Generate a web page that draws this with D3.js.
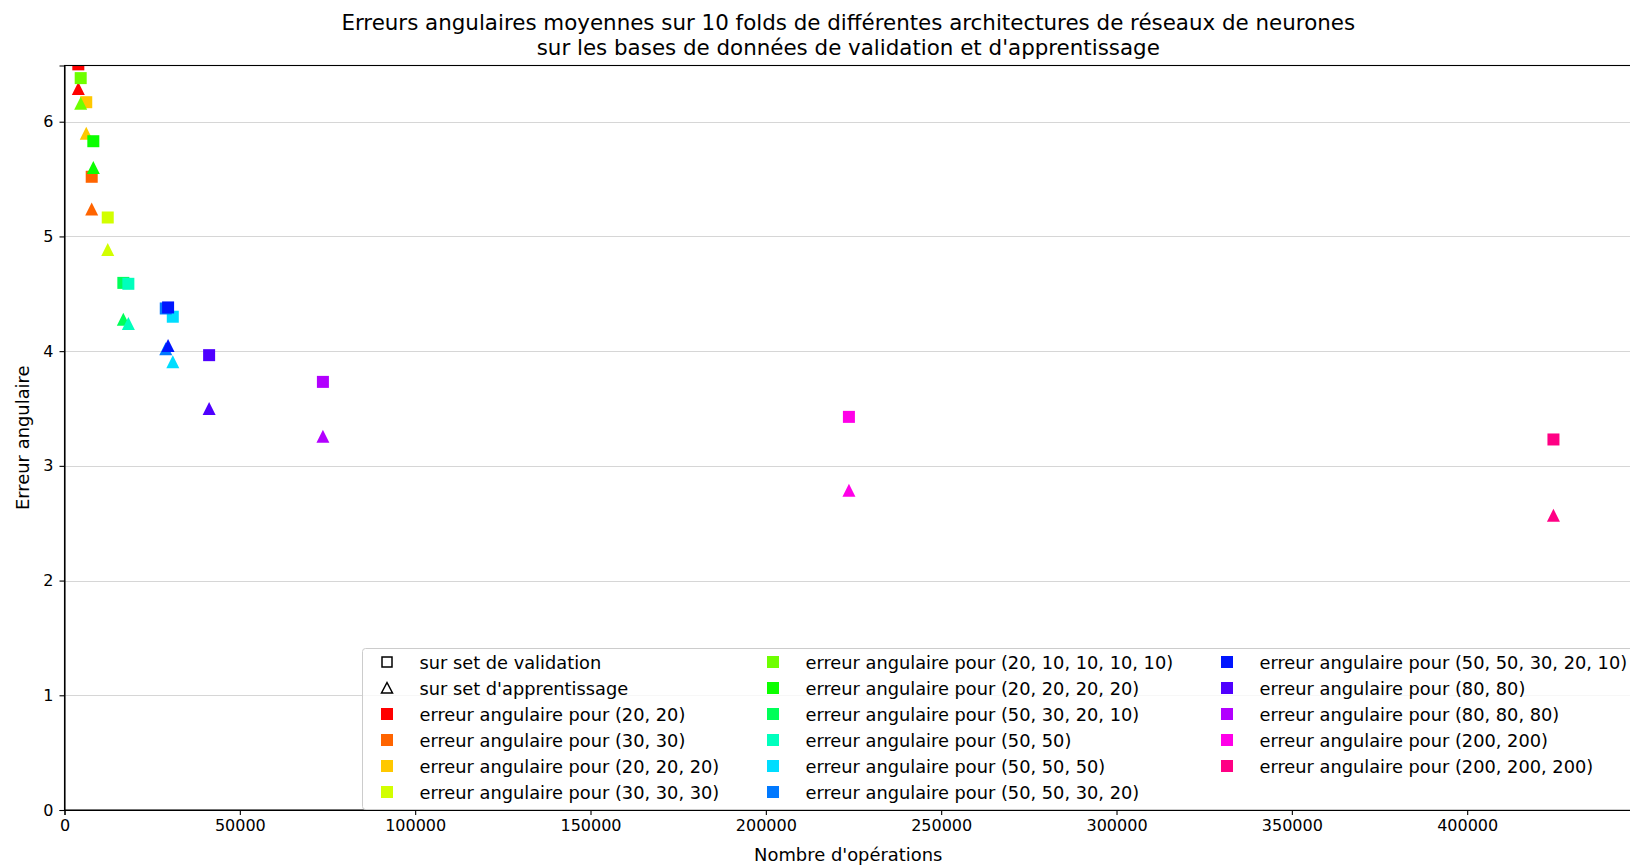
<!DOCTYPE html>
<html lang="fr">
<head>
<meta charset="utf-8">
<title>Erreurs angulaires</title>
<style>
body {
    margin: 0;
    background: #fff;
    font-family: "DejaVu Sans", sans-serif;
}
.grid line {
    stroke: #d6d6d6;
    stroke-width: 1;
}
.axis text {
    font-size: 16px;
    font-family: "DejaVu Sans", sans-serif;
    fill: #000;
}
.axis path, .axis line {
    stroke: #000;
    stroke-width: 1.1;
}
.legend text {
    font-size: 17.8px;
}
</style>
<script src="https://d3js.org/d3.v7.min.js"></script>
</head>
<body>
<div id="chart"></div>
<script>
// architectures testées (une couleur par architecture)
const architectures = ["(20, 20)", "(30, 30)", "(20, 20, 20)", "(30, 30, 30)", "(20, 10, 10, 10, 10)",
    "(20, 20, 20, 20)", "(50, 30, 20, 10)", "(50, 50)", "(50, 50, 50)", "(50, 50, 30, 20)",
    "(50, 50, 30, 20, 10)", "(80, 80)", "(80, 80, 80)", "(200, 200)", "(200, 200, 200)"];
const operations = [3940, 7760, 6200, 12330, 4620, 8220, 16780, 18210, 30880, 28880,
    29540, 41240, 73690, 223690, 424600];
const erreurValidation = [6.50, 5.52, 6.17, 5.165, 6.38, 5.83, 4.595, 4.587, 4.30, 4.372,
    4.381, 3.965, 3.732, 3.427, 3.230];
const erreurApprentissage = [6.29, 5.24, 5.90, 4.887, 6.16, 5.60, 4.279, 4.24, 3.907, 4.02,
    4.05, 3.50, 3.259, 2.788, 2.570];
const couleurs = ["#ff0000", "#ff6400", "#ffc800", "#d2ff00", "#6eff00", "#0bff00", "#00ff59",
    "#00ffbd", "#00ddff", "#0079ff", "#0015ff", "#4f00ff", "#b200ff", "#ff00e8", "#ff0084"];
const xTicks = [0, 50000, 100000, 150000, 200000, 250000, 300000, 350000, 400000];
const yTicks = [0, 1, 2, 3, 4, 5, 6];

const width = 1630;
const height = 867;
const margin = {top: 65.5, right: -2, bottom: 57, left: 64.5};

const svg = d3.select("#chart").append("svg")
    .attr("width", width)
    .attr("height", height);

const x = d3.scaleLinear()
    .domain([0, 447000])
    .range([margin.left, width - margin.right]);
const y = d3.scaleLinear()
    .domain([0, 6.49])
    .range([height - margin.bottom, margin.top]);

svg.append("defs").append("clipPath")
    .attr("id", "clip")
    .append("rect")
    .attr("x", margin.left)
    .attr("y", margin.top)
    .attr("width", x.range()[1] - margin.left)
    .attr("height", y.range()[0] - margin.top);

// grille horizontale
svg.append("g")
    .attr("class", "grid")
    .selectAll("line")
    .data(yTicks.filter(d => d > 0))
    .enter().append("line")
    .attr("x1", margin.left)
    .attr("x2", x.range()[1])
    .attr("y1", d => Math.round(y(d)) + 0.5)
    .attr("y2", d => Math.round(y(d)) + 0.5);

// points : carré = validation, triangle = apprentissage
const pts = svg.append("g").attr("clip-path", "url(#clip)");
architectures.forEach(function (a, i) {
    pts.append("rect")
        .attr("x", x(operations[i]) - 6)
        .attr("y", y(erreurValidation[i]) - 6)
        .attr("width", 12)
        .attr("height", 12)
        .attr("fill", couleurs[i]);
    pts.append("path")
        .attr("d", "M0,-6.5L6.5,6.5L-6.5,6.5Z")
        .attr("transform", "translate(" + x(operations[i]) + "," + y(erreurApprentissage[i]) + ")")
        .attr("fill", couleurs[i]);
});

// axes
svg.append("g")
    .attr("class", "axis")
    .attr("transform", "translate(0," + y(0) + ")")
    .call(d3.axisBottom(x).tickValues(xTicks).tickFormat(d3.format("d")).tickSize(5).tickPadding(5));
svg.append("g")
    .attr("class", "axis")
    .attr("transform", "translate(" + margin.left + ",0)")
    .call(d3.axisLeft(y).tickValues(yTicks).tickFormat(d3.format("d")).tickSize(5).tickPadding(6));

// cadre
svg.append("rect")
    .attr("x", margin.left)
    .attr("y", margin.top)
    .attr("width", x.range()[1] - margin.left)
    .attr("height", y(0) - margin.top)
    .attr("fill", "none")
    .attr("stroke", "#000")
    .attr("stroke-width", 1.1);

// titres
svg.append("text")
    .attr("x", (margin.left + x.range()[1]) / 2)
    .attr("y", 29.5)
    .attr("text-anchor", "middle")
    .style("font-size", "21.4px")
    .text("Erreurs angulaires moyennes sur 10 folds de différentes architectures de réseaux de neurones");
svg.append("text")
    .attr("x", (margin.left + x.range()[1]) / 2)
    .attr("y", 54.5)
    .attr("text-anchor", "middle")
    .style("font-size", "21.4px")
    .text("sur les bases de données de validation et d'apprentissage");
svg.append("text")
    .attr("x", (margin.left + x.range()[1]) / 2)
    .attr("y", 861)
    .attr("text-anchor", "middle")
    .style("font-size", "17.9px")
    .text("Nombre d'opérations");
svg.append("text")
    .attr("transform", "translate(29," + (margin.top + y(0)) / 2 + ") rotate(-90)")
    .attr("text-anchor", "middle")
    .style("font-size", "17.9px")
    .text("Erreur angulaire");

// légende
const legend = svg.append("g").attr("class", "legend");
legend.append("rect")
    .attr("x", 362.5)
    .attr("y", 648.5)
    .attr("width", 1300)
    .attr("height", 161)
    .attr("rx", 3)
    .attr("fill", "#fff")
    .attr("fill-opacity", 0.8)
    .attr("stroke", "#cccccc");

const entrees = [{type: "carre", label: "sur set de validation"},
    {type: "triangle", label: "sur set d'apprentissage"}];
architectures.forEach(function (a, i) {
    entrees.push({type: "couleur", color: couleurs[i], label: "erreur angulaire pour " + a});
});
const colX = [387, 773, 1227];
entrees.forEach(function (e, k) {
    const col = Math.floor(k / 6);
    const cx = colX[col];
    const cy = 662 + 26 * (k % 6);
    if (e.type === "carre") {
        legend.append("rect").attr("x", cx - 5).attr("y", cy - 5).attr("width", 10).attr("height", 10)
            .attr("fill", "none").attr("stroke", "#000").attr("stroke-width", 1.5);
    } else if (e.type === "triangle") {
        legend.append("path").attr("d", "M0,-5.5L5.5,5L-5.5,5Z")
            .attr("transform", "translate(" + cx + "," + cy + ")")
            .attr("fill", "none").attr("stroke", "#000").attr("stroke-width", 1.5);
    } else {
        legend.append("rect").attr("x", cx - 6).attr("y", cy - 6).attr("width", 12).attr("height", 12)
            .attr("fill", e.color);
    }
    legend.append("text")
        .attr("x", cx + 32.5)
        .attr("y", cy + 6.5)
        .text(e.label);
});
</script>
</body>
</html>
